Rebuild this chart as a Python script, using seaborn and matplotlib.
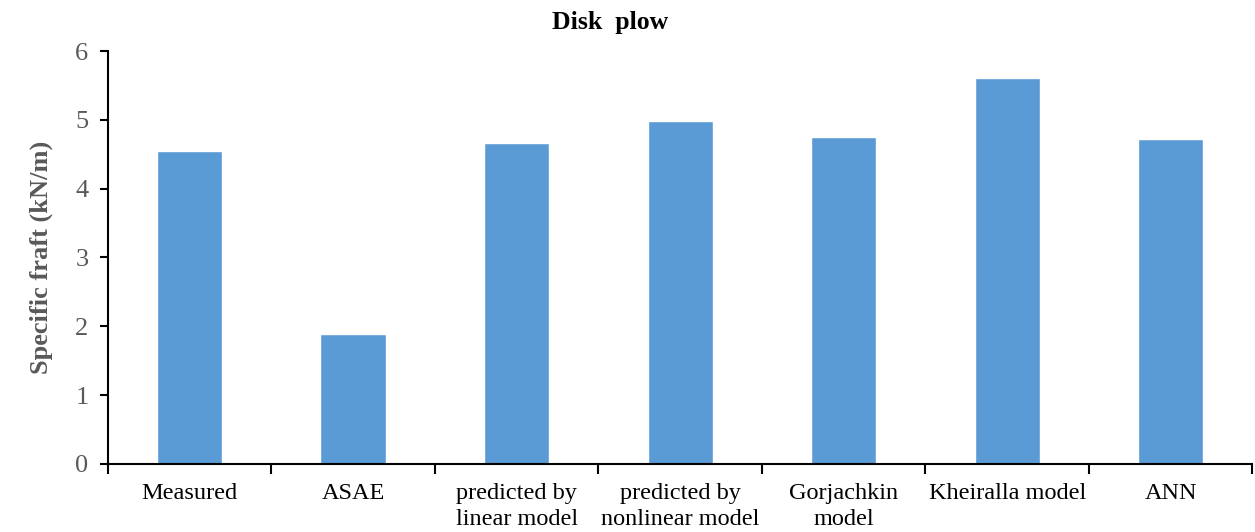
import numpy as np
import pandas as pd
import matplotlib
matplotlib.use("Agg")
import matplotlib.pyplot as plt
import seaborn as sns

categories = ["Measured", "ASAE", "predicted by\nlinear model", "predicted by\nnonlinear model",
              "Gorjachkin\nmodel", "Kheiralla model", "ANN"]
values = [4.55, 1.89, 4.66, 4.98, 4.75, 5.61, 4.72]

sns.set_style("white")
plt.rcParams['font.family'] = ['Liberation Serif', 'DejaVu Serif']

df = pd.DataFrame({"category": categories, "value": values})

fig = plt.figure(figsize=(12.55, 5.32), dpi=100)
ax = fig.add_axes([0.086, 0.128, 0.912, 0.776])

sns.barplot(data=df, x="category", y="value", color="#5b9bd5", saturation=1,
            width=0.4, ax=ax)

ax.set_xlim(-0.5, len(categories) - 0.5)
ax.set_ylim(0, 6)
ax.set_yticks(range(0, 7))
ax.tick_params(axis='y', labelsize=19, labelcolor='#595959', color='black',
               length=6, width=1.5, direction='out', left=True, pad=8)
ax.tick_params(axis='x', which='major', length=0, labelsize=17.5, labelcolor='black', pad=14)
ax.set_xticks(np.arange(-0.5, len(categories), 1.0), minor=True)
ax.tick_params(axis='x', which='minor', length=7, width=1.5, direction='out', bottom=True, color='black')
for lbl in ax.get_xticklabels():
    lbl.set_linespacing(1.3)

for s in ['top', 'right']:
    ax.spines[s].set_visible(False)
for s in ['left', 'bottom']:
    ax.spines[s].set_color('black')
    ax.spines[s].set_linewidth(1.5)

ax.set_xlabel("")
ax.set_ylabel("Specific fraft (kN/m)", fontsize=19, fontweight='bold', color='#595959', labelpad=16)
fig.text(0.486, 0.958, "Disk  plow", ha='center', va='center', fontsize=18.5,
         fontweight='bold', color='black')

fig.savefig("out.png", dpi=100)
